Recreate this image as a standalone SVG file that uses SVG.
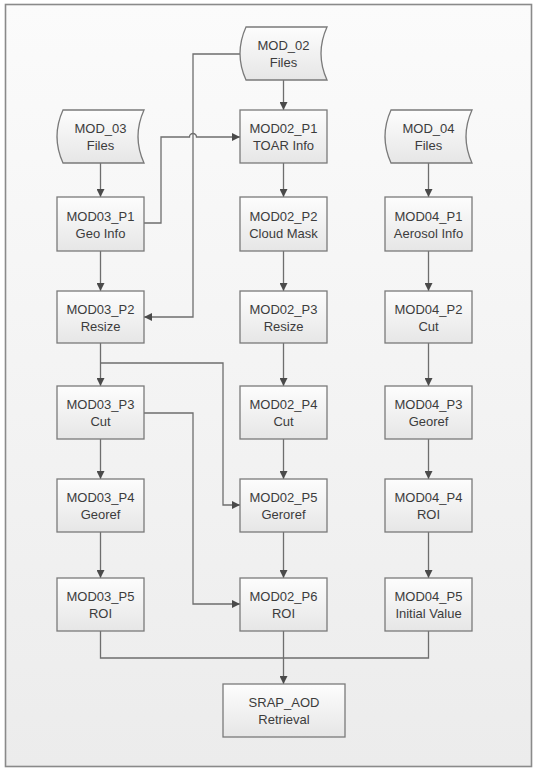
<svg xmlns="http://www.w3.org/2000/svg" width="535" height="768" viewBox="0 0 535 768">
<defs>
<linearGradient id="bg" x1="0" y1="0" x2="0" y2="1">
<stop offset="0" stop-color="#fbfbfb"/>
<stop offset="1" stop-color="#ececec"/>
</linearGradient>
<linearGradient id="nf" x1="0" y1="0" x2="0" y2="1">
<stop offset="0" stop-color="#fdfdfd"/>
<stop offset="1" stop-color="#e6e6e6"/>
</linearGradient>
<marker id="ah" viewBox="0 0 10 10" refX="10" refY="5" markerWidth="8" markerHeight="8" markerUnits="userSpaceOnUse" orient="auto">
<path d="M0,0 L10,5 L0,10 Z" fill="#4a4a4a"/>
</marker>
</defs>
<style>
.n{fill:url(#nf);stroke:#7a7a7a;stroke-width:1.3}
.t{font-family:"Liberation Sans",Arial,sans-serif;font-size:13px;fill:#3c3c3c;text-anchor:middle}
.e{fill:none;stroke:#6e6e6e;stroke-width:1.3}
.a{marker-end:url(#ah)}
</style>
<rect x="0" y="0" width="535" height="768" fill="#ffffff"/>
<rect x="5.5" y="4.5" width="526" height="762" fill="url(#bg)" stroke="#8a8a8a" stroke-width="1.6"/>

<g id="edges">
<!-- column 1 -->
<path class="e a" d="M100.5,163 V197"/>
<path class="e a" d="M100.5,251 V291"/>
<path class="e a" d="M100.5,343 V386"/>
<path class="e a" d="M100.5,439 V479"/>
<path class="e a" d="M100.5,532 V578"/>
<!-- column 2 -->
<path class="e a" d="M283.5,80 V110"/>
<path class="e a" d="M283.5,163 V197"/>
<path class="e a" d="M283.5,251 V291"/>
<path class="e a" d="M283.5,343 V386"/>
<path class="e a" d="M283.5,439 V479"/>
<path class="e a" d="M283.5,532 V578"/>
<path class="e a" d="M283.5,631 V684"/>
<!-- column 3 -->
<path class="e a" d="M428.5,163 V197"/>
<path class="e a" d="M428.5,251 V291"/>
<path class="e a" d="M428.5,343 V386"/>
<path class="e a" d="M428.5,439 V479"/>
<path class="e a" d="M428.5,532 V578"/>
<!-- cross links -->
<path class="e a" d="M240,54 H193 V317 H144"/>
<path class="e a" d="M144,223 H161 V137 H189.5 A3.5,3.5 0 0 1 196.5,137 H240"/>
<path class="e a" d="M100.5,363 H223 V505 H240"/>
<path class="e a" d="M144,413 H193 V604 H240"/>
<!-- bottom merge -->
<path class="e" d="M100.5,631 V658 H428.5 V631"/>
</g>

<g id="MOD_02">
<path class="n" d="M246,27 H327 Q315,53.5 327,80 H246 Q234,53.5 246,27 Z"/>
<text class="t" x="283.5" y="50">MOD_02</text>
<text class="t" x="283.5" y="67">Files</text>
</g>
<g id="MOD_03">
<path class="n" d="M63,110 H144 Q132,136.5 144,163 H63 Q51,136.5 63,110 Z"/>
<text class="t" x="100.5" y="133">MOD_03</text>
<text class="t" x="100.5" y="150">Files</text>
</g>
<g id="MOD_04">
<path class="n" d="M391,110 H472 Q460,136.5 472,163 H391 Q379,136.5 391,110 Z"/>
<text class="t" x="428.5" y="133">MOD_04</text>
<text class="t" x="428.5" y="150">Files</text>
</g>

<g id="MOD02_P1"><rect class="n" x="240" y="110" width="87" height="53"/><text class="t" x="283.5" y="133">MOD02_P1</text><text class="t" x="283.5" y="150">TOAR Info</text></g>
<g id="MOD02_P2"><rect class="n" x="240" y="197" width="87" height="54"/><text class="t" x="283.5" y="221">MOD02_P2</text><text class="t" x="283.5" y="238">Cloud Mask</text></g>
<g id="MOD02_P3"><rect class="n" x="240" y="291" width="87" height="52"/><text class="t" x="283.5" y="314">MOD02_P3</text><text class="t" x="283.5" y="331">Resize</text></g>
<g id="MOD02_P4"><rect class="n" x="240" y="386" width="87" height="53"/><text class="t" x="283.5" y="409">MOD02_P4</text><text class="t" x="283.5" y="426">Cut</text></g>
<g id="MOD02_P5"><rect class="n" x="240" y="479" width="87" height="53"/><text class="t" x="283.5" y="502">MOD02_P5</text><text class="t" x="283.5" y="519">Geroref</text></g>
<g id="MOD02_P6"><rect class="n" x="240" y="578" width="87" height="53"/><text class="t" x="283.5" y="601">MOD02_P6</text><text class="t" x="283.5" y="618">ROI</text></g>

<g id="MOD03_P1"><rect class="n" x="57" y="197" width="87" height="54"/><text class="t" x="100.5" y="221">MOD03_P1</text><text class="t" x="100.5" y="238">Geo Info</text></g>
<g id="MOD03_P2"><rect class="n" x="57" y="291" width="87" height="52"/><text class="t" x="100.5" y="314">MOD03_P2</text><text class="t" x="100.5" y="331">Resize</text></g>
<g id="MOD03_P3"><rect class="n" x="57" y="386" width="87" height="53"/><text class="t" x="100.5" y="409">MOD03_P3</text><text class="t" x="100.5" y="426">Cut</text></g>
<g id="MOD03_P4"><rect class="n" x="57" y="479" width="87" height="53"/><text class="t" x="100.5" y="502">MOD03_P4</text><text class="t" x="100.5" y="519">Georef</text></g>
<g id="MOD03_P5"><rect class="n" x="57" y="578" width="87" height="53"/><text class="t" x="100.5" y="601">MOD03_P5</text><text class="t" x="100.5" y="618">ROI</text></g>

<g id="MOD04_P1"><rect class="n" x="385" y="197" width="87" height="54"/><text class="t" x="428.5" y="221">MOD04_P1</text><text class="t" x="428.5" y="238">Aerosol Info</text></g>
<g id="MOD04_P2"><rect class="n" x="385" y="291" width="87" height="52"/><text class="t" x="428.5" y="314">MOD04_P2</text><text class="t" x="428.5" y="331">Cut</text></g>
<g id="MOD04_P3"><rect class="n" x="385" y="386" width="87" height="53"/><text class="t" x="428.5" y="409">MOD04_P3</text><text class="t" x="428.5" y="426">Georef</text></g>
<g id="MOD04_P4"><rect class="n" x="385" y="479" width="87" height="53"/><text class="t" x="428.5" y="502">MOD04_P4</text><text class="t" x="428.5" y="519">ROI</text></g>
<g id="MOD04_P5"><rect class="n" x="385" y="578" width="87" height="53"/><text class="t" x="428.5" y="601">MOD04_P5</text><text class="t" x="428.5" y="618">Initial Value</text></g>

<g id="SRAP_AOD"><rect class="n" x="223" y="684" width="122" height="53"/><text class="t" x="284" y="707">SRAP_AOD</text><text class="t" x="284" y="724">Retrieval</text></g>
</svg>
